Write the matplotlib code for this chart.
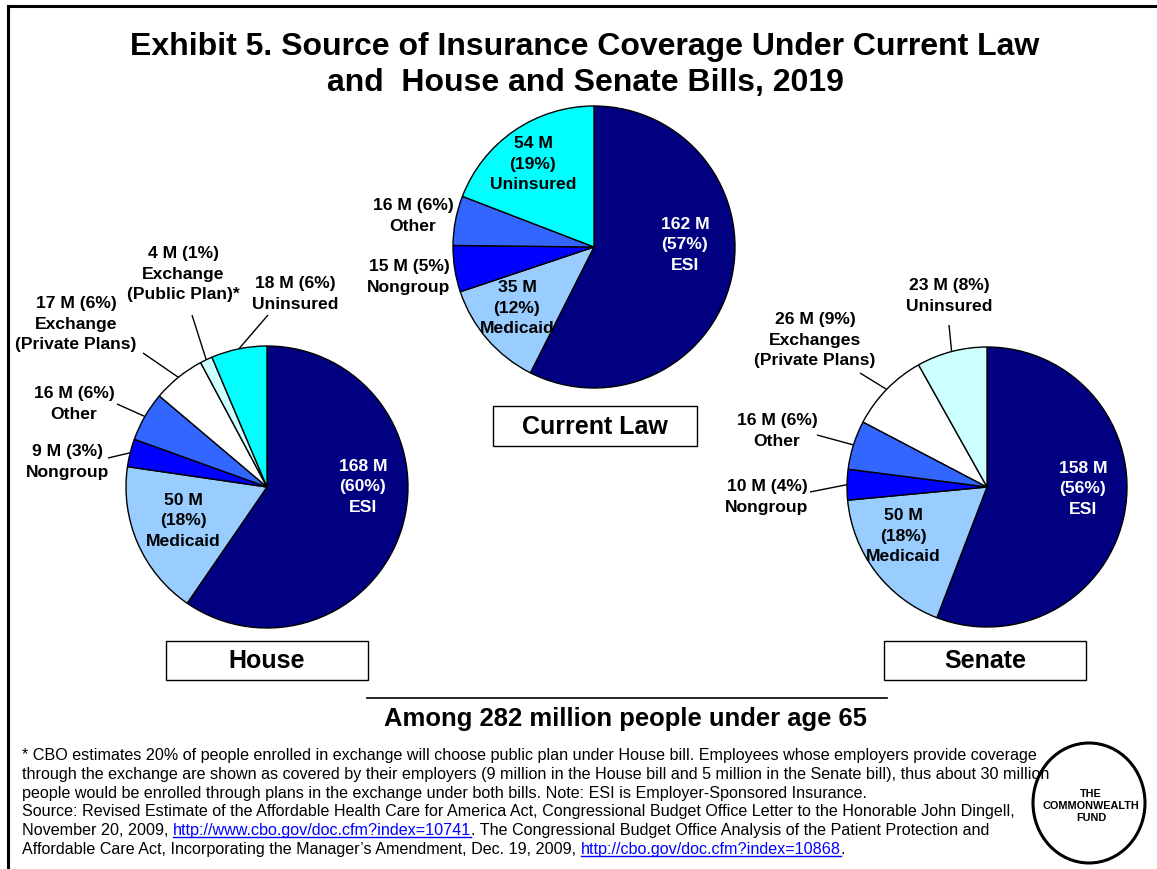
import matplotlib
matplotlib.use('Agg')
import matplotlib.pyplot as plt
import numpy as np
from matplotlib.patches import Rectangle, Ellipse

W, H = 1157, 869
FONT = ['Liberation Sans', 'DejaVu Sans']

# ---------------- data ----------------
cur_cats = ['ESI', 'Medicaid', 'Nongroup', 'Other', 'Uninsured']
cur_vals = [162, 35, 15, 16, 54]
cur_pcts = [57, 12, 5, 6, 19]

house_cats = ['ESI', 'Medicaid', 'Nongroup', 'Other',
              'Exchange\n(Private Plans)', 'Exchange\n(Public Plan)*', 'Uninsured']
house_vals = [168, 50, 9, 16, 17, 4, 18]
house_pcts = [60, 18, 3, 6, 6, 1, 6]

senate_cats = ['ESI', 'Medicaid', 'Nongroup', 'Other',
               'Exchanges\n(Private Plans)', 'Uninsured']
senate_vals = [158, 50, 10, 16, 26, 23]
senate_pcts = [56, 18, 4, 6, 9, 8]

cur_colors = ['#000080', '#99CCFF', '#0000FF', '#3366FF', '#00FFFF']
house_colors = ['#000080', '#99CCFF', '#0000FF', '#3366FF', '#FFFFFF', '#CCFFFF', '#00FFFF']
senate_colors = ['#000080', '#99CCFF', '#0000FF', '#3366FF', '#FFFFFF', '#CCFFFF']

fig = plt.figure(figsize=(W / 100, H / 100), dpi=100)
fig.patch.set_facecolor('white')

ov = fig.add_axes([0, 0, 1, 1], zorder=5)
ov.set_xlim(0, W)
ov.set_ylim(H, 0)
ov.axis('off')

LABEL_FS = 12.6
LS = 1.48


def draw_pie(cx, cy, r, vals, colors):
    pad = 1.05
    rr = r * pad
    ax = fig.add_axes([(cx - rr) / W, (H - cy - rr) / H, 2 * rr / W, 2 * rr / H], zorder=1)
    wedges, _ = ax.pie(vals, colors=colors, startangle=90, counterclock=False, radius=1,
                       wedgeprops=dict(edgecolor='black', linewidth=1.0))
    ax.set_xlim(-pad, pad)
    ax.set_ylim(-pad, pad)
    ax.set_aspect('auto')
    ax.axis('off')
    return wedges


def label(pie, wedges, idx, cat, v, p, pos, kind, color='black', leader=None):
    cx, cy, r = pie
    if kind == 'in':
        s = f"{v} M\n({p}%)\n{cat}"
    else:
        s = f"{v} M ({p}%)\n{cat}"
    ov.text(pos[0], pos[1], s, ha='center', va='center', color=color,
            fontsize=LABEL_FS, fontweight='bold', family=FONT, linespacing=LS,
            multialignment='center')
    if leader is not None:
        w = wedges[idx]
        th = np.deg2rad((w.theta1 + w.theta2) / 2)
        ex = cx + r * np.cos(th)
        ey = cy - r * np.sin(th)
        ov.plot([leader[0], ex], [leader[1], ey], color='black', lw=1.0, solid_capstyle='butt')


# ---------------- pies ----------------
P_cur = (594, 247, 141)
P_house = (267, 487, 141)
P_sen = (987, 487, 140)

w_cur = draw_pie(*P_cur, cur_vals, cur_colors)
w_house = draw_pie(*P_house, house_vals, house_colors)
w_sen = draw_pie(*P_sen, senate_vals, senate_colors)

# current law labels
cur_spec = [((685, 245), 'in', 'white', None),
            ((517, 308), 'in', 'black', None),
            ((409, 277), 'out', 'black', None),
            ((413, 216), 'out', 'black', None),
            ((533, 164), 'in', 'black', None)]
for i, (pos, kind, col, ld) in enumerate(cur_spec):
    label(P_cur, w_cur, i, cur_cats[i], cur_vals[i], cur_pcts[i], pos, kind, col, ld)

house_spec = [((363, 487), 'in', 'white', None),
              ((183, 521), 'in', 'black', None),
              ((68, 462), 'out', 'black', (108, 458)),
              ((74, 404), 'out', 'black', (117, 404)),
              ((76, 324), 'out', 'black', (143, 353)),
              ((183, 274), 'out', 'black', (192, 315)),
              ((295, 294), 'out', 'black', (268, 315))]
for i, (pos, kind, col, ld) in enumerate(house_spec):
    label(P_house, w_house, i, house_cats[i], house_vals[i], house_pcts[i], pos, kind, col, ld)

sen_spec = [((1083, 489), 'in', 'white', None),
            ((903, 536), 'in', 'black', None),
            ((767, 497), 'out', 'black', (810, 492)),
            ((777, 431), 'out', 'black', (817, 435)),
            ((815, 340), 'out', 'black', (860, 373)),
            ((949, 296), 'out', 'black', (949, 325))]
for i, (pos, kind, col, ld) in enumerate(sen_spec):
    label(P_sen, w_sen, i, senate_cats[i], senate_vals[i], senate_pcts[i], pos, kind, col, ld)

# ---------------- frame ----------------
ov.plot([8, 8], [6, H], color='black', lw=2.2)
ov.plot([8, W], [6, 6], color='black', lw=2.2)

renderer = fig.canvas.get_renderer()


def fit_text(x, y, s, target_w, weight='normal', ha='center', va='center', color='black', base=12):
    t = ov.text(x, y, s, ha=ha, va=va, fontsize=base, fontweight=weight, family=FONT, color=color)
    w = t.get_window_extent(renderer).width
    t.set_fontsize(base * target_w / w)
    return t


# ---------------- title ----------------
t1 = fit_text(585, 47, 'Exhibit 5. Source of Insurance Coverage Under Current Law', 906, weight='bold')
ov.text(585, 83, 'and  House and Senate Bills, 2019', ha='center', va='center',
        fontsize=t1.get_fontsize(), fontweight='bold', family=FONT)

# ---------------- boxes ----------------
for (x0, y0, x1, y1, txt) in [(493, 406, 697, 446, 'Current Law'),
                             (166, 641, 368, 680, 'House'),
                             (884, 641, 1086, 680, 'Senate')]:
    ov.add_patch(Rectangle((x0, y0), x1 - x0, y1 - y0, facecolor='white', edgecolor='black', lw=1.0))
    ov.text((x0 + x1) / 2, (y0 + y1) / 2 + 1, txt, ha='center', va='center', fontsize=18,
            fontweight='bold', family=FONT)

ov.plot([367, 887], [698, 698], color='black', lw=1.2)
fit_text(626, 719, 'Among 282 million people under age 65', 480, weight='bold')

# ---------------- footnote ----------------
foot_lines = [
    ["* CBO estimates 20% of people enrolled in exchange will choose public plan under House bill. Employees whose employers provide coverage"],
    ["through the exchange are shown as covered by their employers (9 million in the House bill and 5 million in the Senate bill), thus about 30 million"],
    ["people would be enrolled through plans in the exchange under both bills. Note: ESI is Employer-Sponsored Insurance."],
    ["Source: Revised Estimate of the Affordable Health Care for America Act, Congressional Budget Office Letter to the Honorable John Dingell,"],
    ["November 20, 2009, ", ("http://www.cbo.gov/doc.cfm?index=10741",),
     ". The Congressional Budget Office Analysis of the Patient Protection and"],
    ["Affordable Care Act, Incorporating the Manager\u2019s Amendment, Dec. 19, 2009, ",
     ("http://cbo.gov/doc.cfm?index=10868",), "."],
]
probe = ov.text(0, 0, foot_lines[0][0], fontsize=10, family=FONT)
fs_foot = 10 * 1015 / probe.get_window_extent(renderer).width
probe.remove()

x_start = 22
y0 = 760
dy = 18.8
for li, parts in enumerate(foot_lines):
    x = x_start
    yb = y0 + li * dy
    for part in parts:
        if isinstance(part, tuple):
            s = part[0]
            col = '#0000FF'
        else:
            s = part
            col = 'black'
        t = ov.text(x, yb, s, ha='left', va='baseline', fontsize=fs_foot, family=FONT, color=col)
        bb = t.get_window_extent(renderer)
        if col != 'black':
            ov.plot([x, x + bb.width], [yb + 2, yb + 2], color=col, lw=1.0)
        x = x + bb.width

# ---------------- logo ----------------
ov.add_patch(Ellipse((1089, 803), 112, 120, facecolor='white', edgecolor='black', lw=2.2))
ov.text(1091, 806, 'THE\nCOMMONWEALTH\nFUND', ha='center', va='center', fontsize=7.8,
        fontweight='bold', family=FONT, linespacing=1.25)

fig.savefig('out.png', dpi=100)
